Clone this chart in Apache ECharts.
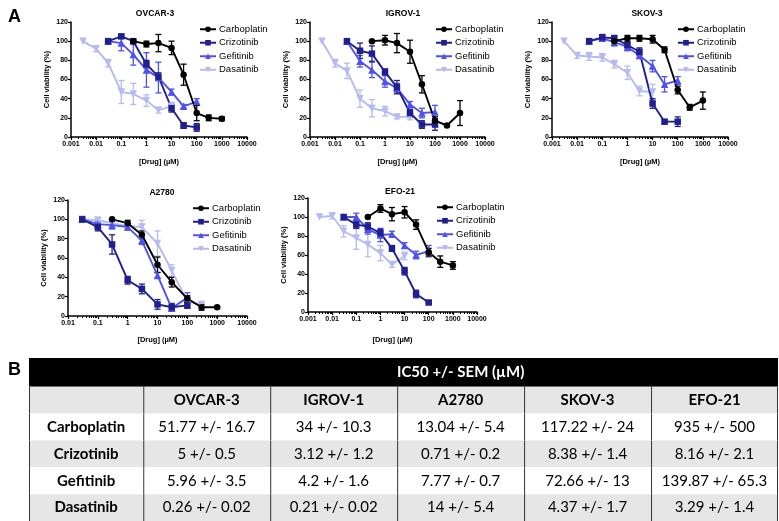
<!DOCTYPE html>
<html><head><meta charset="utf-8">
<script src="https://cdn.jsdelivr.net/npm/echarts@6/dist/echarts.min.js"></script>
<style>html,body{margin:0;padding:0;background:#fff}#c{width:779px;height:521px}</style>
</head><body><div id="c"></div>
<script>
// ---------- DATA ----------
const DRUGS = ['Carboplatin', 'Crizotinib', 'Gefitinib', 'Dasatinib'];
const CELL_LINES = ['OVCAR-3', 'IGROV-1', 'SKOV-3', 'A2780', 'EFO-21'];
const X_AXIS_MIN = [0.001, 0.001, 0.001, 0.01, 0.001];
const X_AXIS_MAX = [10000, 10000, 10000, 10000, 10000];

const CONC_CARBO = [0.3, 1, 3, 10, 30, 100, 300, 1000];
const CONC_KI = [0.03, 0.1, 0.3, 1, 3, 10, 30, 100];
const CONC_DASA = [0.003, 0.01, 0.03, 0.1, 0.3, 1, 3, 10];
const CONC_DASA_A2780 = [0.03, 0.1, 0.3, 1, 3, 10, 30, 100, 300];

// rows: Carboplatin, Crizotinib, Gefitinib, Dasatinib
const OVCAR3_MEAN = [
  [100, 97, 98, 93, 65, 25, 20, 19],
  [100, 105, 100, 76, 63, 30, 12, 10],
  [100, 98, 86, 70, 62, 47, 32, 37],
  [100, 92, 77, 47, 45, 38, 28, 32]
];
const OVCAR3_SEM = [
  [0, 3, 9, 7, 11, 8, 3, 2],
  [0, 2, 1, 4, 4, 4, 3, 4],
  [0, 8, 11, 18, 16, 3, 2, 3],
  [0, 3, 4, 12, 11, 6, 3, 4]
];
const IGROV1_MEAN = [
  [100, 101, 98, 89, 55, 17, 12, 25],
  [100, 90, 87, 68, 52, 25, 13, 13],
  [100, 79, 70, 58, 51, 34, 25, 26],
  [100, 77, 69, 40, 30, 27, 21, 21]
];
const IGROV1_SEM = [
  [0, 5, 10, 12, 9, 4, 1, 13],
  [0, 8, 8, 3, 7, 4, 4, 6],
  [0, 6, 8, 6, 5, 3, 5, 7],
  [0, 4, 8, 9, 9, 5, 2, 3]
];
const SKOV3_MEAN = [
  [100, 103, 103, 102, 91, 49, 31, 38],
  [100, 104, 103, 96, 89, 35, 16, 16],
  [100, 103, 99, 94, 85, 74, 55, 59],
  [100, 85, 84, 83, 76, 67, 48, 47]
];
const SKOV3_SEM = [
  [0, 3, 3, 4, 3, 4, 3, 9],
  [0, 3, 3, 3, 4, 5, 2, 5],
  [0, 3, 4, 4, 3, 6, 8, 4],
  [0, 3, 4, 4, 4, 7, 5, 8]
];
const A2780_MEAN = [
  [100, 96, 84, 53, 35, 18, 9, 9],
  [100, 92, 74, 37, 28, 12, 9, 11],
  [100, 95, 94, 92, 78, 42, 8, 19],
  [100, 99, 96, 93, 92, 75, 47, 15, 12]
];
const A2780_SEM = [
  [0, 3, 4, 8, 5, 3, 3, 1],
  [0, 4, 10, 4, 5, 5, 4, 3],
  [0, 3, 4, 3, 4, 3, 3, 5],
  [0, 3, 3, 3, 7, 13, 6, 4, 3]
];
const EFO21_MEAN = [
  [100, 109, 103, 105, 92, 63, 53, 49],
  [100, 92, 90, 83, 67, 43, 19, 10],
  [100, 100, 87, 81, 82, 70, 60, 64],
  [100, 101, 85, 78, 71, 62, 50, 59]
];
const EFO21_SEM = [
  [0, 4, 7, 6, 5, 4, 6, 4],
  [0, 4, 4, 4, 3, 4, 4, 1],
  [0, 4, 5, 7, 3, 3, 4, 6],
  [0, 3, 6, 12, 13, 8, 3, 4]
];

// IC50 table (rows: drugs, cols: cell lines in table order)
const TABLE_COLS = ['OVCAR-3', 'IGROV-1', 'A2780', 'SKOV-3', 'EFO-21'];
const IC50_MEAN = [
  [51.77, 34, 13.04, 117.22, 935],
  [5, 3.12, 0.71, 8.38, 8.16],
  [5.96, 4.2, 7.77, 72.66, 139.87],
  [0.26, 0.21, 14, 4.37, 3.29]
];
const IC50_SEM = [
  [16.7, 10.3, 5.4, 24, 500],
  [0.5, 1.2, 0.2, 1.4, 2.1],
  [3.5, 1.6, 0.7, 13, 65.3],
  [0.02, 0.02, 5.4, 1.7, 1.4]
];
const TABLE_TITLE = 'IC50 +/- SEM (\u00b5M)';

// ---------- STYLE / LAYOUT ----------
const COLORS = ['#000000', '#1f1f8f', '#4d52ee', '#b6baf3'];
const SYMBOLS = ['circle', 'rect', 'triangle', 'path://M0,0L10,0L5,9Z'];
const SYMBOL_SIZE = [6.5, 6.5, 7.5, 7.5];
const GRIDS = [
  {left: 71, top: 22, width: 176, height: 115},
  {left: 310, top: 22, width: 175, height: 115},
  {left: 552, top: 22, width: 176, height: 115},
  {left: 68, top: 200, width: 179, height: 116},
  {left: 308, top: 198, width: 169, height: 114}
];
const X_NAME_GAP = [21, 21, 21, 20, 24];
const TITLE_POS = [[150, 4], [398, 4], [642, 4], [157, 183], [395, 182]];
const LEGEND_POS = [[199, 24], [435, 24], [677, 24], [192, 203], [436, 202]];
const FONT = '"Liberation Sans", Arial, sans-serif';

const MEANS = [OVCAR3_MEAN, IGROV1_MEAN, SKOV3_MEAN, A2780_MEAN, EFO21_MEAN];
const SEMS = [OVCAR3_SEM, IGROV1_SEM, SKOV3_SEM, A2780_SEM, EFO21_SEM];
const CONCS = [
  [CONC_CARBO, CONC_KI, CONC_KI, CONC_DASA],
  [CONC_CARBO, CONC_KI, CONC_KI, CONC_DASA],
  [CONC_CARBO, CONC_KI, CONC_KI, CONC_DASA],
  [CONC_CARBO, CONC_KI, CONC_KI, CONC_DASA_A2780],
  [CONC_CARBO, CONC_KI, CONC_KI, CONC_DASA]
];

function errRender(params, api) {
  const x = api.value(0), lo = api.value(1), hi = api.value(2);
  if (hi - lo <= 0) return null;
  const a = api.coord([x, lo]), b = api.coord([x, hi]);
  const w = 3;
  const style = {stroke: api.visual('color'), lineWidth: 1.3};
  return {type: 'group', children: [
    {type: 'line', shape: {x1: a[0], y1: a[1], x2: b[0], y2: b[1]}, style},
    {type: 'line', shape: {x1: a[0] - w, y1: a[1], x2: a[0] + w, y2: a[1]}, style},
    {type: 'line', shape: {x1: b[0] - w, y1: b[1], x2: b[0] + w, y2: b[1]}, style}
  ]};
}

const grid = [], xAxis = [], yAxis = [], series = [], title = [], legend = [];
const axisLine = {show: true, onZero: false, lineStyle: {color: '#000', width: 1.5}};
GRIDS.forEach((g, k) => {
  grid.push(Object.assign({containLabel: false}, g));
  xAxis.push({
    type: 'log', logBase: 10, gridIndex: k, min: X_AXIS_MIN[k], max: X_AXIS_MAX[k],
    splitNumber: Math.round(Math.log10(X_AXIS_MAX[k] / X_AXIS_MIN[k])),
    axisLine, axisTick: {show: true, length: 3, lineStyle: {color: '#000', width: 1.2}},
    minorTick: {show: true, splitNumber: 9, length: 2, lineStyle: {color: '#000', width: 1}},
    splitLine: {show: false},
    axisLabel: {fontFamily: FONT, fontWeight: 'bold', fontSize: 7, color: '#000', margin: 4,
      formatter: v => String(+(+v).toPrecision(6))},
    name: '[Drug] (\u00b5M)', nameLocation: 'middle', nameGap: X_NAME_GAP[k],
    nameTextStyle: {fontFamily: FONT, fontWeight: 'bold', fontSize: 7.5, color: '#000'}
  });
  yAxis.push({
    type: 'value', gridIndex: k, min: 0, max: 120, interval: 20,
    axisLine, axisTick: {show: true, length: 3, lineStyle: {color: '#000', width: 1.2}},
    splitLine: {show: false},
    axisLabel: {fontFamily: FONT, fontWeight: 'bold', fontSize: 7, color: '#000', margin: 3},
    name: 'Cell viability (%)', nameLocation: 'middle', nameGap: 20, nameRotate: 90,
    nameTextStyle: {fontFamily: FONT, fontWeight: 'bold', fontSize: 7.5, color: '#000'}
  });
  title.push({
    text: CELL_LINES[k], left: TITLE_POS[k][0], top: TITLE_POS[k][1], textAlign: 'center',
    textStyle: {fontFamily: FONT, fontWeight: 'bold', fontSize: 8.5, color: '#000'}
  });
  legend.push({
    data: DRUGS, left: LEGEND_POS[k][0], top: LEGEND_POS[k][1], orient: 'vertical',
    itemWidth: 16, itemHeight: 7, itemGap: 3, selectedMode: false, padding: 0,
    textStyle: {fontFamily: FONT, fontSize: 9.5, color: '#000', lineHeight: 10.5, padding: [0, 0, 0, -2]}
  });
  for (let d = DRUGS.length - 1; d >= 0; d--) {
    const conc = CONCS[k][d], mean = MEANS[k][d], sem = SEMS[k][d];
    series.push({
      type: 'custom', name: DRUGS[d] + ' SEM', xAxisIndex: k, yAxisIndex: k,
      renderItem: errRender, itemStyle: {color: COLORS[d]},
      encode: {x: 0, y: [1, 2]}, silent: true, z: 2,
      data: conc.map((c, i) => [c, mean[i] - sem[i], mean[i] + sem[i]])
    });
    series.push({
      type: 'line', name: DRUGS[d], xAxisIndex: k, yAxisIndex: k,
      symbol: SYMBOLS[d], symbolSize: SYMBOL_SIZE[d], showSymbol: true,
      lineStyle: {color: COLORS[d], width: 1.9}, itemStyle: {color: COLORS[d]},
      z: 3, data: conc.map((c, i) => [c, mean[i]])
    });
  }
});

// ---------- TABLE ----------
const COL_W = [0.9, 1, 1, 1, 1, 1];
const ROW_H = [29, 27, 27, 27, 27, 27];
function cum(a) { const r = [0]; a.forEach(v => r.push(r[r.length - 1] + v)); return r; }
const COL_E = cum(COL_W), ROW_E = cum(ROW_H);
const GRAY = '#e6e6e6';
const TABLE_CELLS = [];
TABLE_CELLS.push({c0: 0, c1: 5, t0: 1, r: 0, text: TABLE_TITLE, fill: '#000', color: '#fff', bold: true, border: false});
TABLE_CELLS.push({c0: 0, c1: 0, t0: 0, r: 1, text: '', fill: GRAY, bold: true, border: true});
TABLE_COLS.forEach((n, j) => TABLE_CELLS.push({c0: j + 1, c1: j + 1, t0: j + 1, r: 1, text: n, fill: GRAY, bold: true, border: true}));
DRUGS.forEach((dname, i) => {
  const fill = i % 2 === 1 ? GRAY : '#fff';
  TABLE_CELLS.push({c0: 0, c1: 0, t0: 0, r: i + 2, text: dname, fill, bold: true, border: true});
  TABLE_COLS.forEach((n, j) => TABLE_CELLS.push({
    c0: j + 1, c1: j + 1, t0: j + 1, r: i + 2,
    text: IC50_MEAN[i][j] + ' +/- ' + IC50_SEM[i][j], fill, bold: false, border: true
  }));
});
grid.push({left: 29, right: 1, top: 358, bottom: -1});
xAxis.push({type: 'value', gridIndex: 5, min: 0, max: COL_E[COL_E.length - 1], show: false});
yAxis.push({type: 'value', gridIndex: 5, min: 0, max: ROW_E[ROW_E.length - 1], inverse: true, show: false});
series.push({
  type: 'custom', xAxisIndex: 5, yAxisIndex: 5, silent: true,
  data: TABLE_CELLS.map(c => [COL_E[c.c0], ROW_E[c.r]]),
  renderItem: function (params, api) {
    const c = TABLE_CELLS[params.dataIndex];
    const p0 = api.coord([COL_E[c.c0], ROW_E[c.r]]);
    const p1 = api.coord([COL_E[c.c1 + 1], ROW_E[c.r + 1]]);
    const t0 = api.coord([COL_E[c.t0], ROW_E[c.r]]);
    const children = [
      {type: 'rect', shape: {x: p0[0], y: p0[1], width: p1[0] - p0[0], height: p1[1] - p0[1]}, style: {fill: c.fill}},
      {type: 'text', x: (t0[0] + p1[0]) / 2, y: (p0[1] + p1[1]) / 2,
        style: {text: c.text, fill: c.color || '#000', align: 'center', verticalAlign: 'middle',
          font: (c.bold ? 'bold ' : '') + '15px Lato, "Open Sans", sans-serif'}}
    ];
    if (c.border) {
      children.push({type: 'line', shape: {x1: p0[0] + 0.5, y1: p0[1], x2: p0[0] + 0.5, y2: p1[1]}, style: {stroke: '#333', lineWidth: 1}});
      if (c.c1 === 5) children.push({type: 'line', shape: {x1: p1[0] - 0.5, y1: p0[1], x2: p1[0] - 0.5, y2: p1[1]}, style: {stroke: '#333', lineWidth: 1}});
    }
    return {type: 'group', children};
  }
});

// panel letters
title.push({text: 'A', left: 3, top: 3, textStyle: {fontFamily: FONT, fontWeight: 'bold', fontSize: 18, color: '#000'}});
title.push({text: 'B', left: 3, top: 356, textStyle: {fontFamily: FONT, fontWeight: 'bold', fontSize: 18, color: '#000'}});

const chart = echarts.init(document.getElementById('c'), null, {renderer: 'canvas'});
chart.setOption({animation: false, backgroundColor: '#fff', title, legend, grid, xAxis, yAxis, series});
</script>
</body></html>
